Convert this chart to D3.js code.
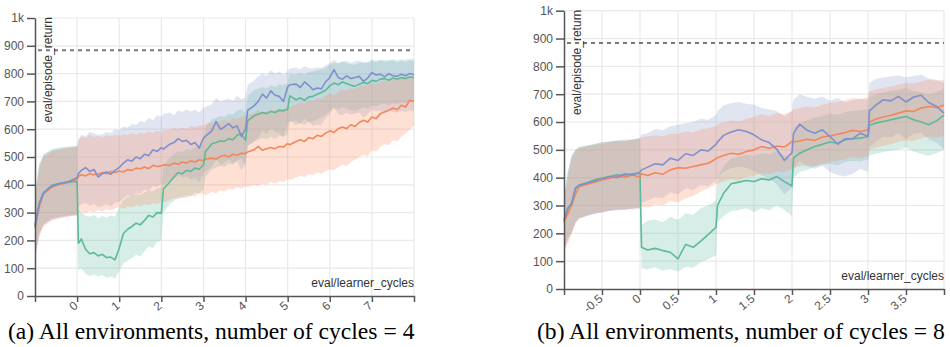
<!DOCTYPE html>
<html>
<head>
<meta charset="utf-8">
<script src="https://cdn.jsdelivr.net/npm/d3@7"></script>
<style>
  body { margin: 0; background: #fff; }
  svg { display: block; }
</style>
</head>
<body>
<script>
// ---- (a) number of cycles = 4 ----
var xsA = [
  -1, -0.9, -0.8, -0.6, -0.4, -0.2, 0,
  0.03, 0.1, 0.2, 0.3, 0.4, 0.5, 0.6, 0.7, 0.8, 0.9, 1, 1.1, 1.2, 1.3, 1.4, 1.5, 1.6, 1.7, 1.8, 1.9, 2,
  2.05, 2.2, 2.3, 2.4, 2.5, 2.6, 2.7, 2.8, 2.9, 3,
  3.05, 3.2, 3.3, 3.4, 3.5, 3.6, 3.7, 3.8, 3.9, 4,
  4.05, 4.2, 4.3, 4.4, 4.5, 4.6, 4.7, 4.8, 4.9, 5,
  5.05, 5.2, 5.3, 5.4, 5.5, 5.6, 5.7, 5.8, 5.9, 6,
  6.1, 6.2, 6.3, 6.4, 6.5, 6.6, 6.7, 6.8, 6.9, 7,
  7.1, 7.2, 7.3, 7.4, 7.5, 7.6, 7.7, 7.8, 7.9, 8
];
var blueA = [
  250, 330, 370, 395, 405, 412, 425,
  440, 452, 462, 448, 455, 428, 440, 446, 438, 452, 462, 478, 490, 485, 500, 494, 510, 505, 526, 520, 534,
  528, 546, 552, 566, 556, 560, 545, 552, 532, 568,
  575, 594, 628, 600, 608, 620, 605, 612, 574, 600,
  668, 684, 700, 726, 712, 738, 722, 718, 700, 752,
  760, 762, 750, 770, 758, 742, 748, 745, 770, 786,
  814, 786, 780, 792, 782, 786, 790, 772, 784, 804,
  795, 798, 788, 800, 792, 790, 798, 792, 800, 796
];
var blueHiA = [
  360, 470, 505, 525, 530, 535, 540,
  560, 580, 575, 590, 585, 578, 582, 590, 586, 600, 596, 610, 605, 620, 615, 630, 625, 640, 632, 650, 645,
  655, 660, 650, 668, 662, 672, 664, 670, 660, 678,
  680, 690, 712, 700, 705, 710, 702, 720, 708, 715,
  760, 775, 790, 800, 792, 812, 800, 808, 795, 810,
  818, 822, 815, 826, 820, 818, 822, 820, 830, 838,
  850, 838, 842, 846, 838, 844, 846, 838, 842, 850,
  846, 850, 842, 848, 846, 840, 846, 842, 848, 845
];
var blueLoA = [
  140, 220, 255, 275, 282, 288, 292,
  320, 330, 335, 325, 332, 318, 325, 330, 322, 335, 340, 352, 362, 358, 372, 368, 382, 378, 396, 392, 404,
  400, 415, 422, 434, 426, 430, 418, 424, 408, 440,
  448, 466, 492, 472, 480, 490, 478, 484, 452, 476,
  540, 556, 570, 594, 582, 604, 590, 586, 570, 620,
  628, 630, 620, 638, 626, 612, 618, 615, 640, 655,
  680, 655, 650, 660, 652, 656, 660, 642, 654, 672,
  664, 666, 658, 668, 662, 660, 666, 662, 668, 665
];
var orangeA = [
  245, 320, 368, 392, 402, 408, 418,
  430, 436, 432, 440, 436, 438, 444, 440, 448, 444, 450, 446, 455, 452, 460, 458, 464, 458, 470, 466, 468,
  472, 470, 478, 474, 482, 478, 486, 482, 490, 486,
  492, 496, 492, 502, 506, 500, 510, 506, 514, 512,
  518, 526, 538, 524, 530, 534, 530, 538, 536, 548,
  544, 556, 562, 556, 570, 566, 578, 574, 586, 594,
  588, 602, 608, 602, 616, 610, 624, 632, 626, 644,
  638, 656, 662, 668, 676, 670, 686, 680, 704, 700
];
var orangeHiA = [
  350, 460, 500, 520, 528, 532, 535,
  560, 575, 568, 580, 572, 576, 570, 578, 574, 580, 576, 582, 578, 586, 580, 588, 584, 592, 586, 594, 590,
  596, 598, 604, 600, 606, 602, 612, 606, 614, 612,
  618, 624, 620, 630, 634, 628, 640, 636, 646, 648,
  652, 658, 668, 660, 664, 670, 666, 676, 672, 684,
  680, 690, 696, 692, 704, 700, 712, 708, 720, 728,
  722, 736, 742, 738, 748, 744, 754, 760, 756, 766,
  762, 772, 776, 772, 780, 776, 784, 780, 788, 785
];
var orangeLoA = [
  130, 210, 250, 272, 280, 285, 290,
  300, 304, 298, 306, 300, 310, 304, 312, 308, 316, 320, 314, 322, 318, 326, 322, 330, 326, 334, 330, 340,
  336, 344, 352, 348, 358, 352, 362, 358, 370, 368,
  362, 374, 370, 380, 376, 386, 382, 392, 386, 396,
  392, 400, 396, 404, 400, 410, 404, 414, 410, 420,
  416, 426, 432, 428, 438, 434, 444, 440, 450, 456,
  452, 464, 472, 468, 482, 490, 500, 508, 504, 524,
  520, 536, 546, 542, 560, 556, 574, 584, 600, 612
];
var greenA = [
  255, 335, 372, 398, 406, 410, 412,
  190, 205, 168, 152, 156, 144, 150, 138, 140, 130, 172, 225, 240, 250, 262, 256, 272, 290, 284, 300, 298,
  385, 410, 428, 444, 440, 452, 448, 460, 456, 472,
  520, 548, 552, 558, 556, 566, 562, 578, 584, 560,
  630, 648, 654, 660, 656, 664, 660, 668, 666, 672,
  720, 706, 712, 704, 716, 718, 726, 732, 740, 756,
  766, 760, 770, 764, 758, 754, 762, 768, 764, 776,
  772, 780, 782, 776, 784, 780, 786, 782, 788, 786
];
var greenHiA = [
  370, 475, 510, 528, 535, 538, 540,
  310, 300, 290, 285, 292, 280, 288, 282, 290, 285, 320, 345, 355, 360, 368, 362, 372, 380, 376, 388, 390,
  470, 498, 510, 522, 518, 528, 524, 536, 532, 548,
  610, 636, 640, 648, 644, 656, 652, 666, 672, 660,
  720, 740, 746, 752, 748, 758, 752, 762, 758, 766,
  800, 796, 802, 796, 806, 808, 812, 816, 820, 832,
  840, 836, 844, 838, 834, 832, 838, 842, 838, 846,
  842, 848, 850, 846, 852, 848, 852, 850, 854, 852
];
var greenLoA = [
  150, 225, 258, 280, 285, 290, 292,
  95, 100, 80, 72, 78, 70, 76, 66, 70, 62, 90, 118, 128, 136, 148, 142, 160, 178, 172, 196, 200,
  300, 330, 342, 356, 352, 362, 358, 372, 368, 386,
  430, 456, 462, 468, 464, 476, 472, 488, 494, 470,
  540, 556, 562, 568, 564, 572, 566, 576, 574, 580,
  630, 616, 622, 614, 626, 628, 636, 642, 650, 666,
  676, 670, 680, 674, 668, 664, 672, 678, 674, 686,
  682, 690, 692, 686, 694, 690, 696, 692, 698, 696
];

// ---- (b) number of cycles = 8 ----
var xsB = [
  -1, -0.95, -0.9, -0.85, -0.8, -0.7, -0.6, -0.5, -0.4, -0.3, -0.2, -0.1, 0,
  0.02, 0.1, 0.2, 0.3, 0.4, 0.5, 0.6, 0.7, 0.8, 0.9, 1,
  1.02, 1.1, 1.2, 1.3, 1.4, 1.5, 1.6, 1.7, 1.8, 1.9, 2,
  2.02, 2.1, 2.2, 2.3, 2.4, 2.5, 2.6, 2.7, 2.8, 2.9, 3,
  3.02, 3.1, 3.2, 3.3, 3.4, 3.5, 3.6, 3.7, 3.8, 3.9, 4
];
var blueB = [
  245, 292, 305, 362, 372, 380, 388, 396, 404, 400, 414, 410, 420,
  428, 438, 450, 446, 470, 462, 486, 480, 500, 496, 520,
  528, 552, 564, 572, 566, 554, 536, 526, 502, 462, 490,
  560, 592, 570, 560, 572, 548, 520, 540, 540, 560, 548,
  640, 660, 680, 676, 692, 672, 690, 696, 670, 656, 632
];
var blueHiB = [
  330, 420, 480, 500, 510, 515, 520, 528, 530, 534, 538, 536, 545,
  555, 560, 575, 570, 585, 590, 596, 600, 612, 608, 625,
  640, 660, 668, 672, 666, 662, 650, 646, 640, 620, 640,
  680, 700, 690, 684, 692, 676, 686, 670, 678, 684, 680,
  740, 755, 760, 764, 768, 760, 766, 770, 756, 752, 740
];
var blueLoB = [
  140, 185, 205, 240, 252, 262, 270, 275, 280, 282, 288, 286, 292,
  310, 318, 330, 326, 348, 340, 362, 356, 374, 370, 392,
  400, 422, 434, 440, 436, 424, 408, 398, 376, 340, 366,
  430, 460, 440, 432, 444, 420, 410, 404, 414, 432, 420,
  510, 528, 548, 544, 560, 540, 558, 562, 538, 526, 502
];
var orangeB = [
  240, 270, 300, 340, 368, 376, 384, 392, 398, 404, 402, 410, 402,
  414, 408, 418, 412, 428, 436, 434, 440, 446, 452, 468,
  472, 480, 488, 484, 494, 500, 512, 506, 514, 510, 530,
  528, 532, 538, 534, 546, 550, 556, 562, 570, 566, 572,
  600, 610, 618, 624, 632, 640, 638, 650, 656, 652, 660
];
var orangeHiB = [
  320, 400, 470, 495, 505, 512, 518, 522, 528, 532, 530, 536, 540,
  545, 548, 552, 548, 560, 556, 566, 562, 574, 578, 586,
  592, 598, 606, 602, 612, 618, 628, 622, 632, 628, 640,
  646, 650, 656, 652, 662, 668, 672, 678, 686, 682, 690,
  710, 716, 722, 728, 734, 740, 738, 746, 752, 748, 752
];
var orangeLoB = [
  130, 165, 195, 235, 255, 264, 272, 276, 282, 286, 284, 290, 288,
  296, 292, 304, 300, 316, 312, 326, 334, 350, 362, 376,
  380, 386, 394, 390, 402, 406, 416, 412, 422, 420, 432,
  436, 440, 446, 442, 452, 456, 462, 466, 474, 470, 478,
  500, 508, 514, 520, 528, 534, 532, 542, 548, 544, 550
];
var greenB = [
  250, 285, 310, 360, 374, 382, 392, 398, 404, 410, 408, 414, 416,
  150, 140, 146, 138, 132, 108, 160, 150, 172, 196, 222,
  300, 344, 378, 384, 390, 386, 396, 392, 404, 386, 370,
  470, 488, 500, 512, 520, 528, 524, 536, 540, 542, 548,
  588, 596, 602, 608, 614, 620, 608, 600, 590, 604, 625
];
var greenHiB = [
  330, 420, 478, 500, 510, 516, 522, 526, 530, 534, 532, 538, 540,
  230, 245, 250, 240, 260, 248, 272, 266, 290, 300, 318,
  400, 440, 470, 476, 482, 478, 488, 484, 496, 480, 468,
  580, 596, 606, 616, 622, 630, 626, 636, 640, 642, 648,
  690, 700, 706, 712, 716, 722, 712, 706, 698, 708, 720
];
var greenLoB = [
  140, 175, 200, 238, 254, 262, 270, 276, 282, 286, 284, 290, 292,
  75, 70, 78, 66, 72, 62, 80, 76, 96, 108, 120,
  240, 262, 280, 284, 290, 276, 290, 282, 300, 284, 262,
  400, 420, 428, 440, 446, 450, 444, 456, 460, 458, 466,
  480, 486, 492, 498, 500, 508, 494, 486, 478, 488, 500
];

// ticks and labels
var yTicks = [0, 100, 200, 300, 400, 500, 600, 700, 800, 900, 1000];
var xTicksA = [-1, 0, 1, 2, 3, 4, 5, 6, 7, 8];
var xTicksB = [-1, -0.5, 0, 0.5, 1, 1.5, 2, 2.5, 3, 3.5, 4];
var targetReturn = 884;
var yTitle = "eval/episode_return";
var xTitle = "eval/learner_cycles";
var captions = ["(a) All environments, number of cycles = 4", "(b) All environments, number of cycles = 8"];

var colors = { blue: "#8da0cb", orange: "#fc8d62", green: "#66c2a5" };
var lineColors = { blue: "#7f90cd", orange: "#f4875a", green: "#5cba97" };

var svg = d3.select("body").append("svg")
  .attr("width", 950)
  .attr("height", 347);

function drawPanel(p) {
  var x = d3.scaleLinear().domain([p.xTicks[0], p.xTicks[p.xTicks.length - 1]]).range([p.left, p.right]);
  var y = d3.scaleLinear().domain([0, 1000]).range([p.bottom, p.top]);
  var g = svg.append("g");

  // grid
  g.selectAll("line.hgrid").data(yTicks.slice(1)).enter().append("line")
    .attr("x1", p.left).attr("x2", p.right)
    .attr("y1", d => y(d)).attr("y2", d => y(d))
    .attr("stroke", "#e9e9e9").attr("stroke-width", 1.2);
  g.selectAll("line.vgrid").data(p.xTicks.slice(1)).enter().append("line")
    .attr("x1", d => x(d)).attr("x2", d => x(d))
    .attr("y1", p.top).attr("y2", p.bottom)
    .attr("stroke", "#e9e9e9").attr("stroke-width", 1.2);

  // bands (green first, orange on top)
  ["green", "blue", "orange"].forEach(k => {
    var s = p.series.find(d => d.key === k);
    var area = d3.area()
      .x(d => x(d))
      .y0((d, i) => y(s.lo[i]))
      .y1((d, i) => y(s.hi[i]));
    g.append("path")
      .attr("d", area(p.xs))
      .attr("fill", colors[k])
      .attr("fill-opacity", 0.27)
      .attr("stroke", "none");
  });

  // target line
  g.append("line")
    .attr("x1", p.left + 3).attr("x2", p.right)
    .attr("y1", y(targetReturn)).attr("y2", y(targetReturn))
    .attr("stroke", "#7a7a7a").attr("stroke-width", 2)
    .attr("stroke-dasharray", "4,4");

  // mean lines
  p.lineOrder.forEach(k => {
    var s = p.series.find(d => d.key === k);
    var line = d3.line()
      .x(d => x(d))
      .y((d, i) => y(s.mean[i]));
    g.append("path")
      .attr("d", line(p.xs))
      .attr("fill", "none")
      .attr("stroke", lineColors[k])
      .attr("stroke-width", 1.6)
      .attr("stroke-linejoin", "round");
  });

  // axes
  var yAxis = g.append("g")
    .attr("transform", "translate(" + p.left + ",0)")
    .call(d3.axisLeft(y).tickValues(yTicks).tickSize(8).tickSizeOuter(0).tickPadding(3)
      .tickFormat(d => d === 1000 ? "1k" : d));
  var xAxis = g.append("g")
    .attr("transform", "translate(0," + p.bottom + ")")
    .call(d3.axisBottom(x).tickValues(p.xTicks).tickSize(6).tickSizeOuter(0)
      .tickFormat((d, i) => (i === 0 || i === p.xTicks.length - 1) ? "" : d));
  xAxis.selectAll("text")
    .attr("x", 0).attr("y", 0).attr("dy", 0)
    .attr("text-anchor", "end")
    .attr("transform", "translate(1,11) rotate(-40)");
  [yAxis, xAxis].forEach(a => {
    a.select(".domain").attr("stroke", "#555").attr("stroke-width", 1.5);
    a.selectAll(".tick line").attr("stroke", "#555").attr("stroke-width", 1.5);
    a.selectAll("text").attr("fill", "#555")
      .style("font-family", "'Liberation Sans', Arial, sans-serif").style("font-size", "12px");
  });

  // axis titles
  g.append("text")
    .attr("transform", "translate(" + (p.left + 17) + "," + (p.top - 1) + ") rotate(-90)")
    .attr("text-anchor", "end")
    .attr("fill", "#333")
    .style("font-family", "'Liberation Sans', Arial, sans-serif").style("font-size", "12px")
    .text(yTitle);
  g.append("text")
    .attr("x", p.right).attr("y", p.bottom - 9)
    .attr("text-anchor", "end")
    .attr("fill", "#333")
    .style("font-family", "'Liberation Sans', Arial, sans-serif").style("font-size", "12px")
    .text(xTitle);

  // caption
  svg.append("text")
    .attr("x", p.capX).attr("y", 339)
    .attr("fill", "#000")
    .style("font-family", "'Liberation Serif', 'Times New Roman', serif").style("font-size", "23.6px")
    .text(p.caption);
}

drawPanel({
  left: 35, right: 414, top: 18, bottom: 296,
  xTicks: xTicksA, xs: xsA, capX: 8, caption: captions[0],
  lineOrder: ["orange", "green", "blue"],
  series: [
    { key: "blue", mean: blueA, lo: blueLoA, hi: blueHiA },
    { key: "orange", mean: orangeA, lo: orangeLoA, hi: orangeHiA },
    { key: "green", mean: greenA, lo: greenLoA, hi: greenHiA }
  ]
});
drawPanel({
  left: 564, right: 944, top: 10.7, bottom: 289,
  xTicks: xTicksB, xs: xsB, capX: 537, caption: captions[1],
  lineOrder: ["green", "orange", "blue"],
  series: [
    { key: "blue", mean: blueB, lo: blueLoB, hi: blueHiB },
    { key: "orange", mean: orangeB, lo: orangeLoB, hi: orangeHiB },
    { key: "green", mean: greenB, lo: greenLoB, hi: greenHiB }
  ]
});
</script>
</body>
</html>
